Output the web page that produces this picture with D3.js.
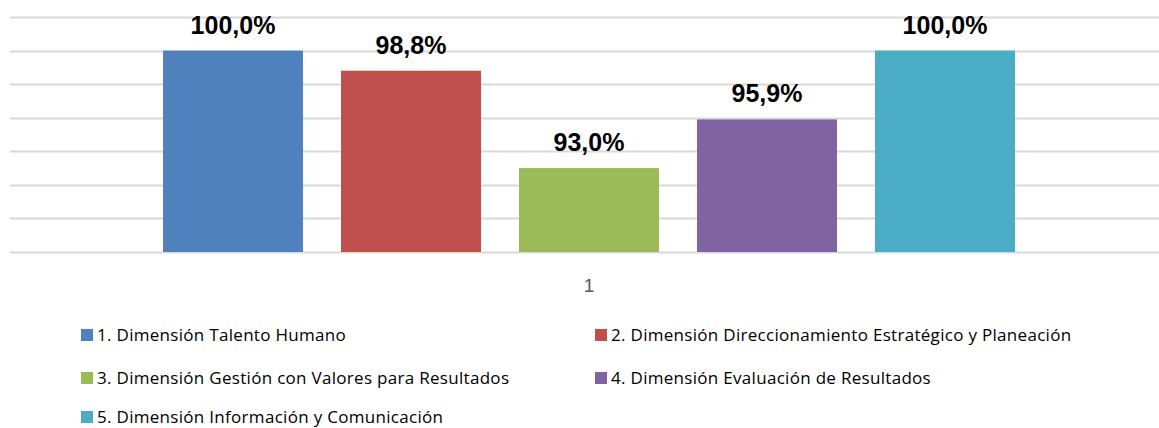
<!DOCTYPE html>
<html>
<head>
<meta charset="utf-8">
<script src="https://cdn.jsdelivr.net/npm/d3@7"></script>
<style>
  body { margin: 0; background: #fff; }
  svg { display: block; }
</style>
</head>
<body>
<div id="chart"></div>
<script>
// data
var categories = ["1"];
var seriesNames = [
  "1. Dimensión Talento Humano",
  "2. Dimensión Direccionamiento Estratégico y Planeación",
  "3. Dimensión Gestión con Valores para Resultados",
  "4. Dimensión Evaluación de Resultados",
  "5. Dimensión Información y Comunicación"
];
var seriesValues = [100.0, 98.8, 93.0, 95.9, 100.0];
var seriesColors = ["#4f81bd", "#c0504d", "#9bbb59", "#8064a2", "#4bacc6"];
var yTicks = [88, 90, 92, 94, 96, 98, 100, 102];

var width = 1159, height = 428;

var svg = d3.select("#chart").append("svg")
  .attr("width", width)
  .attr("height", height);

var x0 = d3.scaleBand()
  .domain(categories)
  .range([10, 1168])
  .paddingOuter(0.1506);

var x1 = d3.scaleBand()
  .domain(d3.range(seriesNames.length))
  .range([0, x0.bandwidth()])
  .paddingInner(0.2135)
  .paddingOuter(0.1067);

var y = d3.scaleLinear()
  .domain([88, 102])
  .range([252, 17]);

// gridlines
svg.append("g")
  .selectAll("line")
  .data(yTicks)
  .enter()
  .append("line")
  .attr("x1", 10)
  .attr("x2", width)
  .attr("y1", d => Math.round(y(d)) + 0.5)
  .attr("y2", d => Math.round(y(d)) + 0.5)
  .attr("stroke", "#d9d9d9")
  .attr("stroke-width", 2);

var group = svg.append("g")
  .attr("transform", `translate(${x0(categories[0])},0)`);

group.selectAll("rect")
  .data(seriesValues)
  .enter()
  .append("rect")
  .attr("x", (d, i) => x1(i))
  .attr("y", d => y(d))
  .attr("width", x1.bandwidth())
  .attr("height", d => y(88) - y(d))
  .attr("fill", (d, i) => seriesColors[i]);

group.selectAll("text.val")
  .data(seriesValues)
  .enter()
  .append("text")
  .attr("class", "val")
  .attr("x", (d, i) => x1(i) + x1.bandwidth() / 2)
  .attr("y", d => y(d) - 17)
  .attr("text-anchor", "middle")
  .style("font-family", "'Liberation Sans', Arial, sans-serif")
  .style("font-weight", "bold")
  .style("font-size", "25px")
  .attr("fill", "#000")
  .text(d => d.toFixed(1).replace(".", ",") + "%");

// category axis label
svg.append("text")
  .attr("x", x0(categories[0]) + x0.bandwidth() / 2)
  .attr("y", 292)
  .attr("text-anchor", "middle")
  .style("font-family", "'Liberation Sans', Arial, sans-serif")
  .style("font-size", "19px")
  .attr("fill", "#595959")
  .text(categories[0]);

// legend
var legendCols = [81, 595];
var legendRows = [341, 384, 423];
var legend = svg.append("g");
var items = legend.selectAll("g")
  .data(seriesNames)
  .enter()
  .append("g")
  .attr("transform", (d, i) => `translate(${legendCols[i % 2]},${legendRows[Math.floor(i / 2)]})`);

items.append("rect")
  .attr("x", 0)
  .attr("y", -12)
  .attr("width", 12)
  .attr("height", 12)
  .attr("fill", (d, i) => seriesColors[i]);

items.append("text")
  .attr("x", 16)
  .attr("y", 0)
  .style("font-family", "'Open Sans', sans-serif")
  .style("font-size", "17px")
  .style("letter-spacing", "0.3px")
  .attr("fill", "#000")
  .text(d => d);
</script>
</body>
</html>
